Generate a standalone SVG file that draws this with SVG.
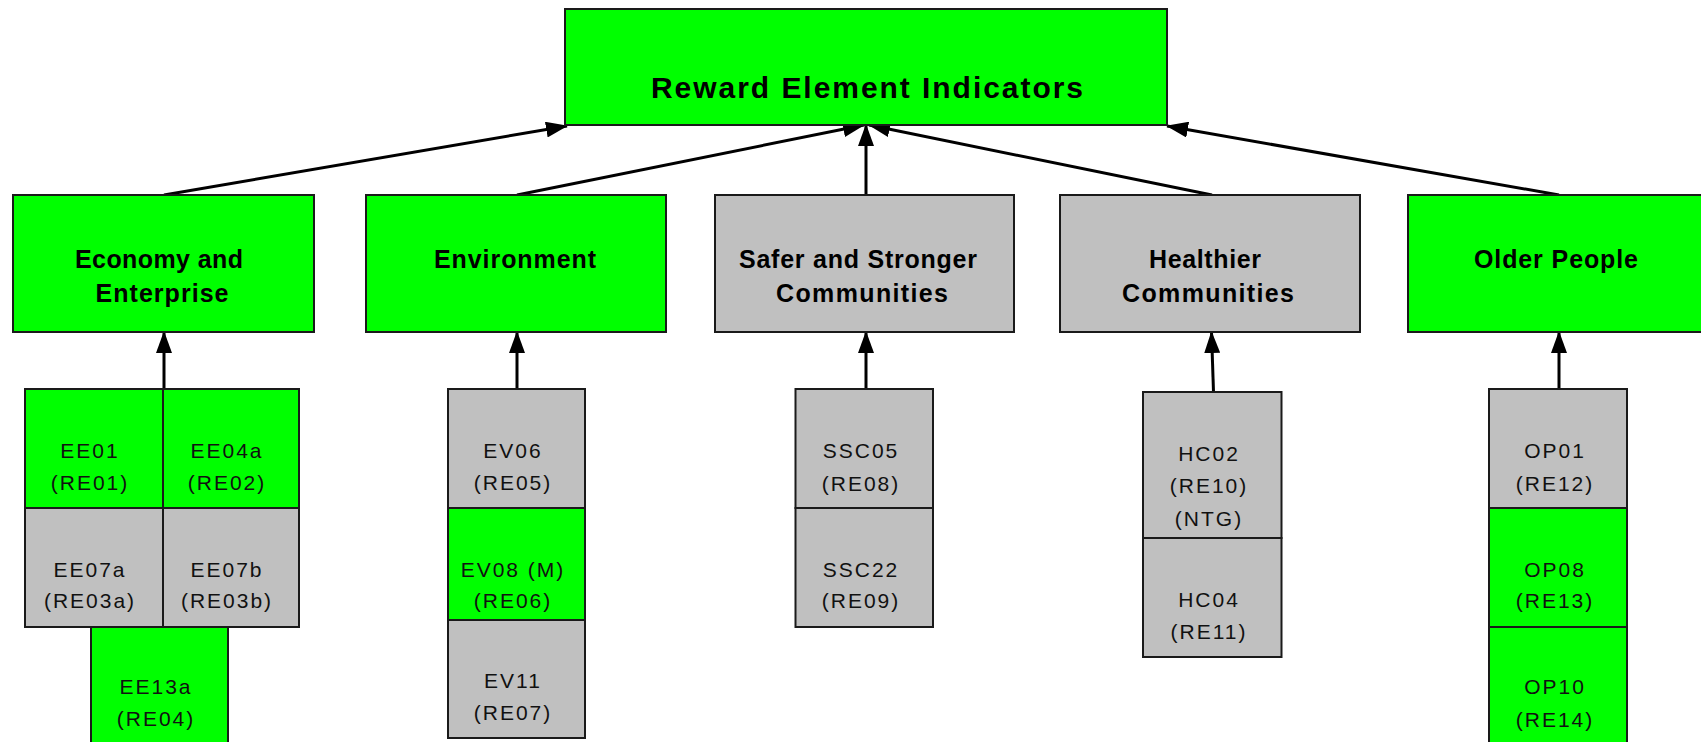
<svg xmlns="http://www.w3.org/2000/svg" width="1701" height="742" viewBox="0 0 1701 742">
<style>
.g{fill:#00ff00;stroke:#1a1a1a;stroke-width:2}
.s{fill:#c0c0c0;stroke:#1a1a1a;stroke-width:2}
.t{font-family:"Liberation Sans",Arial,sans-serif;font-weight:bold;font-size:25px;fill:#000;text-anchor:middle}
.h{font-family:"Liberation Sans",Arial,sans-serif;font-weight:bold;font-size:30px;fill:#000;text-anchor:middle}
.l{font-family:"Liberation Sans",Arial,sans-serif;font-size:21px;letter-spacing:2px;fill:#111;text-anchor:middle}
.c{stroke:#000;stroke-width:3;fill:none;marker-end:url(#ah)}
</style>
<defs>
<marker id="ah" markerUnits="userSpaceOnUse" markerWidth="22" markerHeight="16" refX="21" refY="8" orient="auto">
<path d="M0,0 L22,8 L0,16 Z" fill="#000"/>
</marker>
</defs>
<rect width="1701" height="742" fill="#fff"/>

<g id="connectors">
<line class="c" x1="164" y1="195" x2="567" y2="126"/>
<line class="c" x1="517" y1="195" x2="864" y2="125"/>
<line class="c" x1="866" y1="195" x2="866" y2="125"/>
<line class="c" x1="1212" y1="195" x2="869" y2="125"/>
<line class="c" x1="1559" y1="195" x2="1167" y2="126"/>
<line class="c" x1="164" y1="389" x2="164" y2="332"/>
<line class="c" x1="517" y1="389" x2="517" y2="332"/>
<line class="c" x1="866" y1="389" x2="866" y2="332"/>
<line class="c" x1="1213.5" y1="392" x2="1211.5" y2="332"/>
<line class="c" x1="1559" y1="389" x2="1559" y2="332"/>
</g>

<g id="root">
<rect class="g" x="565" y="9" width="602" height="116"/>
<text class="h" x="867" y="98" textLength="432" lengthAdjust="spacing">Reward Element Indicators</text>
</g>

<g id="economy">
<rect class="g" x="13" y="195" width="301" height="137"/>
<text class="t" x="159" y="268" textLength="168" lengthAdjust="spacing">Economy and</text>
<text class="t" x="162" y="302" textLength="133" lengthAdjust="spacing">Enterprise</text>
</g>
<g id="environment">
<rect class="g" x="366" y="195" width="300" height="137"/>
<text class="t" x="515" y="268" textLength="162" lengthAdjust="spacing">Environment</text>
</g>
<g id="safer">
<rect class="s" x="715" y="195" width="299" height="137"/>
<text class="t" x="858" y="268" textLength="238" lengthAdjust="spacing">Safer and Stronger</text>
<text class="t" x="862" y="302" textLength="172" lengthAdjust="spacing">Communities</text>
</g>
<g id="healthier">
<rect class="s" x="1060" y="195" width="300" height="137"/>
<text class="t" x="1205" y="268" textLength="112" lengthAdjust="spacing">Healthier</text>
<text class="t" x="1208" y="302" textLength="172" lengthAdjust="spacing">Communities</text>
</g>
<g id="older">
<rect class="g" x="1408" y="195" width="300" height="137"/>
<text class="t" x="1556" y="268" textLength="164" lengthAdjust="spacing">Older People</text>
</g>

<g id="EE01">
<rect class="g" x="25" y="389" width="138" height="119"/>
<text class="l" x="90" y="458">EE01</text>
<text class="l" x="90" y="490">(RE01)</text>
</g>
<g id="EE04a">
<rect class="g" x="163" y="389" width="136" height="119"/>
<text class="l" x="227" y="458">EE04a</text>
<text class="l" x="227" y="490">(RE02)</text>
</g>
<g id="EE07a">
<rect class="s" x="25" y="508" width="138" height="119"/>
<text class="l" x="90" y="577">EE07a</text>
<text class="l" x="90" y="608">(RE03a)</text>
</g>
<g id="EE07b">
<rect class="s" x="163" y="508" width="136" height="119"/>
<text class="l" x="227" y="577">EE07b</text>
<text class="l" x="227" y="608">(RE03b)</text>
</g>
<g id="EE13a">
<rect class="g" x="91" y="627" width="137" height="130"/>
<text class="l" x="156" y="694">EE13a</text>
<text class="l" x="156" y="726">(RE04)</text>
</g>

<g id="EV06">
<rect class="s" x="448" y="389" width="137" height="119"/>
<text class="l" x="513" y="458">EV06</text>
<text class="l" x="513" y="490">(RE05)</text>
</g>
<g id="EV08">
<rect class="g" x="448" y="508" width="137" height="112"/>
<text class="l" x="513" y="577">EV08 (M)</text>
<text class="l" x="513" y="608">(RE06)</text>
</g>
<g id="EV11">
<rect class="s" x="448" y="620" width="137" height="118"/>
<text class="l" x="513" y="688">EV11</text>
<text class="l" x="513" y="720">(RE07)</text>
</g>

<g id="SSC05">
<rect class="s" x="795.5" y="389" width="137.5" height="119"/>
<text class="l" x="861" y="458">SSC05</text>
<text class="l" x="861" y="491">(RE08)</text>
</g>
<g id="SSC22">
<rect class="s" x="795.5" y="508" width="137.5" height="119"/>
<text class="l" x="861" y="577">SSC22</text>
<text class="l" x="861" y="608">(RE09)</text>
</g>

<g id="HC02">
<rect class="s" x="1143" y="392" width="138.5" height="146"/>
<text class="l" x="1209" y="461">HC02</text>
<text class="l" x="1209" y="493">(RE10)</text>
<text class="l" x="1209" y="526">(NTG)</text>
</g>
<g id="HC04">
<rect class="s" x="1143" y="538" width="138.5" height="119"/>
<text class="l" x="1209" y="607">HC04</text>
<text class="l" x="1209" y="639">(RE11)</text>
</g>

<g id="OP01">
<rect class="s" x="1489" y="389" width="138" height="119"/>
<text class="l" x="1555" y="458">OP01</text>
<text class="l" x="1555" y="491">(RE12)</text>
</g>
<g id="OP08">
<rect class="g" x="1489" y="508" width="138" height="119"/>
<text class="l" x="1555" y="577">OP08</text>
<text class="l" x="1555" y="608">(RE13)</text>
</g>
<g id="OP10">
<rect class="g" x="1489" y="627" width="138" height="130"/>
<text class="l" x="1555" y="694">OP10</text>
<text class="l" x="1555" y="727">(RE14)</text>
</g>
</svg>
